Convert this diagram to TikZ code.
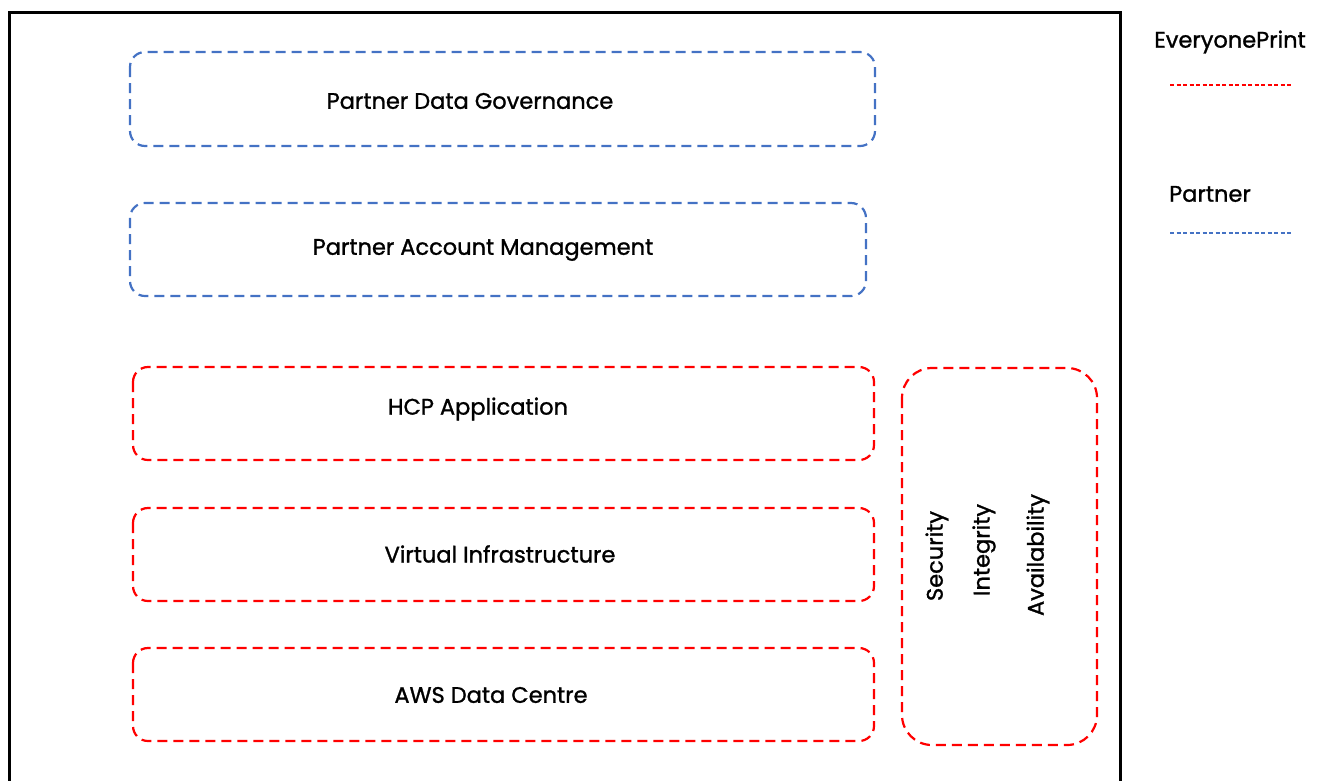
\documentclass[tikz,border=0pt]{standalone}
\usepackage{fontspec}
\setmainfont{Poppins}[BoldFont=Poppins, BoldFeatures={FakeBold=1.2}]
\definecolor{pblue}{HTML}{4472C4}
\definecolor{pred}{HTML}{FF0000}
\begin{document}
\begin{tikzpicture}[x=1pt,y=-1pt,
  layer/.style={line width=2.2pt, dash pattern=on 10pt off 6pt, rounded corners=15pt},
  bluebox/.style={layer, draw=pblue},
  redbox/.style={layer, draw=pred},
  lbl/.style={text=black, font=\bfseries\fontsize{22.5}{26}\selectfont},
  legline/.style={line width=1.2pt, dash pattern=on 4pt off 2.5pt}]
\useasboundingbox (0,0) rectangle (1321,780);
\begin{scope}
\clip (0,0) rectangle (1321,780);
\draw[line width=3pt] (9,790) -- (9,12) -- (1120,12) -- (1120,790);
\end{scope}
\draw[bluebox] (130,52) rectangle (875,146);
\node[lbl] (pdg) at (470,101) {Partner Data Governance};
\draw[bluebox] (130,203) rectangle (866,296);
\node[lbl] (pam) at (483,250) {Partner Account Management};
\draw[redbox] (133,367) rectangle (874,460);
\node[lbl] (hcp) at (478,409) {HCP Application};
\draw[redbox] (133,508) rectangle (874,601);
\node[lbl] (vi) at (500,554) {Virtual Infrastructure};
\draw[redbox] (133,648) rectangle (874,741);
\node[lbl] (aws) at (491,695) {AWS Data Centre};
\draw[redbox, rounded corners=30pt] (902,368) rectangle (1097,745);
\node[lbl, rotate=90] (sec) at (937,556) {Security};
\node[lbl, rotate=90] (int) at (984,550) {Integrity};
\node[lbl, rotate=90] (ava) at (1038,555) {Availability};
\node[lbl] (lep) at (1230,42) {EveryonePrint};
\coordinate (r1) at (1170,85);
\coordinate (r2) at (1293,85);
\draw[legline, draw=pred] (r1) -- (r2);
\node[lbl] (lpa) at (1210,194) {Partner};
\coordinate (b1) at (1170,233);
\coordinate (b2) at (1293,233);
\draw[legline, draw=pblue] (b1) -- (b2);
\end{tikzpicture}
\end{document}
